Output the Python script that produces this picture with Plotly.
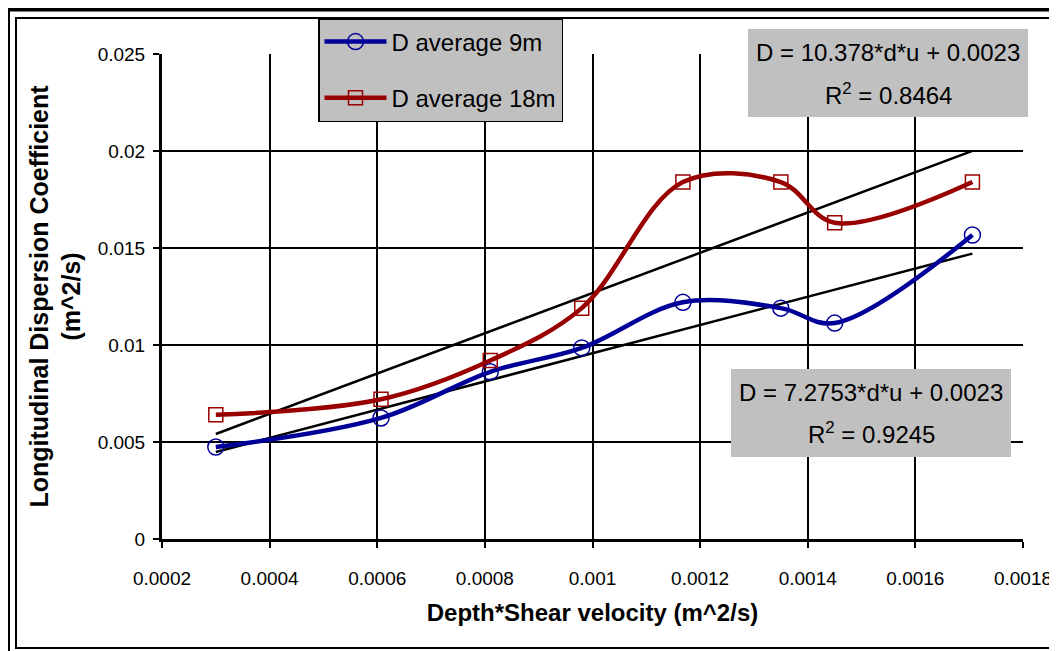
import plotly.graph_objects as go

# ---- data ----
x_du = [0.000300, 0.000607, 0.000810, 0.000980, 0.001168, 0.001350, 0.001450, 0.001706]
d_avg_9m = [0.00474, 0.00624, 0.00862, 0.00985, 0.01220, 0.01190, 0.01113, 0.01567]
d_avg_18m = [0.00640, 0.00720, 0.00920, 0.01190, 0.01840, 0.01840, 0.01630, 0.01840]

series_names = ["D average 9m", "D average 18m"]

# trendline coefficients (from the chart's equations)
slope_9m, intercept_9m = 7.2753, 0.0023
slope_18m, intercept_18m = 10.378, 0.0023
r2_9m, r2_18m = "0.9245", "0.8464"

x_tickvals = [0.0002, 0.0004, 0.0006, 0.0008, 0.0010, 0.0012, 0.0014, 0.0016, 0.0018]
x_ticktext = ["0.0002", "0.0004", "0.0006", "0.0008", "0.001", "0.0012", "0.0014", "0.0016", "0.0018"]
y_tickvals = [0, 0.005, 0.010, 0.015, 0.020, 0.025]
y_ticktext = ["0", "0.005", "0.01", "0.015", "0.02", "0.025"]

# ---- layout geometry (page body has an 8px margin) ----
OFF = 8
W, H = 1057 - OFF, 651 - OFF
L, T = 162 - OFF, 54 - OFF
R = W - (1023 - OFF)
B = H - (539 - OFF)
PW, PH = W - L - R, H - T - B


def px(x):
    """reference-screen x pixel -> paper coordinate"""
    return (x - OFF - L) / PW


def py(y):
    """reference-screen y pixel -> paper coordinate"""
    return (H - B - (y - OFF)) / PH


FONT = "Liberation Sans, Arial, sans-serif"
BLUE = "#000099"
RED = "#990000"

fig = go.Figure()

# trendlines
xt = [min(x_du), max(x_du)]
fig.add_trace(go.Scatter(x=xt, y=[slope_18m * v + intercept_18m for v in xt], mode="lines",
                         line=dict(color="black", width=2.5), showlegend=False, hoverinfo="skip"))
fig.add_trace(go.Scatter(x=xt, y=[slope_9m * v + intercept_9m for v in xt], mode="lines",
                         line=dict(color="black", width=2.5), showlegend=False, hoverinfo="skip"))

fig.add_trace(go.Scatter(
    x=x_du, y=d_avg_9m, name=series_names[0], mode="lines+markers", legendgroup="a",
    line=dict(color=BLUE, width=4.5, shape="spline", smoothing=1.0),
    marker=dict(symbol="circle-open", size=16, color=BLUE, line=dict(width=1.5, color=BLUE)),
))
fig.add_trace(go.Scatter(
    x=x_du, y=d_avg_18m, name=series_names[1], mode="lines+markers", legendgroup="b",
    line=dict(color=RED, width=4.5, shape="spline", smoothing=1.0),
    marker=dict(symbol="square-open", size=14, color=RED, line=dict(width=1.5, color=RED)),
))

shapes = []
# equation boxes
shapes.append(dict(type="rect", xref="paper", yref="paper", x0=px(748), x1=px(1028), y0=py(117), y1=py(29),
                   fillcolor="#C0C0C0", line=dict(width=0), layer="above"))
shapes.append(dict(type="rect", xref="paper", yref="paper", x0=px(731), x1=px(1011), y0=py(457), y1=py(369),
                   fillcolor="#C0C0C0", line=dict(width=0), layer="above"))
# chart frame
shapes.append(dict(type="rect", xref="paper", yref="paper", x0=px(16), x1=px(1054), y0=py(648), y1=py(18),
                   line=dict(color="black", width=2), layer="above"))
shapes.append(dict(type="line", xref="paper", yref="paper", x0=px(5), x1=px(1060), y0=py(9.5), y1=py(9.5),
                   line=dict(color="black", width=4), layer="above"))
shapes.append(dict(type="line", xref="paper", yref="paper", x0=px(8.5), x1=px(8.5), y0=py(7), y1=py(660),
                   line=dict(color="black", width=3), layer="above"))

annotations = []
eqs = [
    (888, 52, 94, f"D = {slope_18m}*d*u + {intercept_18m}", f"R<sup>2</sup> = {r2_18m}"),
    (871, 392, 433, f"D = {slope_9m}*d*u + {intercept_9m}", f"R<sup>2</sup> = {r2_9m}"),
]
for cx, y1, y2, t1, t2 in eqs:
    annotations.append(dict(xref="paper", yref="paper", x=px(cx), y=py(y1), text=t1, showarrow=False,
                            xanchor="center", yanchor="middle", font=dict(family=FONT, size=24, color="black")))
    annotations.append(dict(xref="paper", yref="paper", x=px(cx), y=py(y2), text=t2, showarrow=False,
                            xanchor="center", yanchor="middle", font=dict(family=FONT, size=24, color="black")))

fig.update_layout(
    width=W, height=H,
    margin=dict(l=L, r=R, t=T, b=B, autoexpand=False),
    paper_bgcolor="white", plot_bgcolor="white",
    font=dict(family=FONT, color="black"),
    shapes=shapes, annotations=annotations,
    legend=dict(x=px(318), y=py(18), xanchor="left", yanchor="top",
                bgcolor="#C0C0C0", bordercolor="black", borderwidth=1.5,
                font=dict(family=FONT, size=24, color="black"),
                tracegroupgap=22, itemwidth=62),
    xaxis=dict(range=[0.0002, 0.0018], tickvals=x_tickvals, ticktext=x_ticktext,
               showgrid=True, gridcolor="black", gridwidth=1.5,
               showline=True, linecolor="black", linewidth=3,
               ticks="outside", ticklen=6, tickwidth=2, tickcolor="black",
               ticklabelstandoff=14, zeroline=False,
               tickfont=dict(family=FONT, size=19),
               title=dict(text="<b>Depth*Shear velocity (m^2/s)</b>", standoff=17,
                          font=dict(family=FONT, size=24))),
    yaxis=dict(range=[0, 0.025], tickvals=y_tickvals, ticktext=y_ticktext,
               showgrid=True, gridcolor="black", gridwidth=1.5,
               showline=True, linecolor="black", linewidth=3,
               ticks="outside", ticklen=6, tickwidth=2, tickcolor="black",
               ticklabelstandoff=4, zeroline=False,
               tickfont=dict(family=FONT, size=19),
               title=dict(text="<b>Longitudinal Dispersion Coefficient<br>(m^2/s)</b>", standoff=10,
                          font=dict(family=FONT, size=25))),
)

fig.write_html("out.html")
